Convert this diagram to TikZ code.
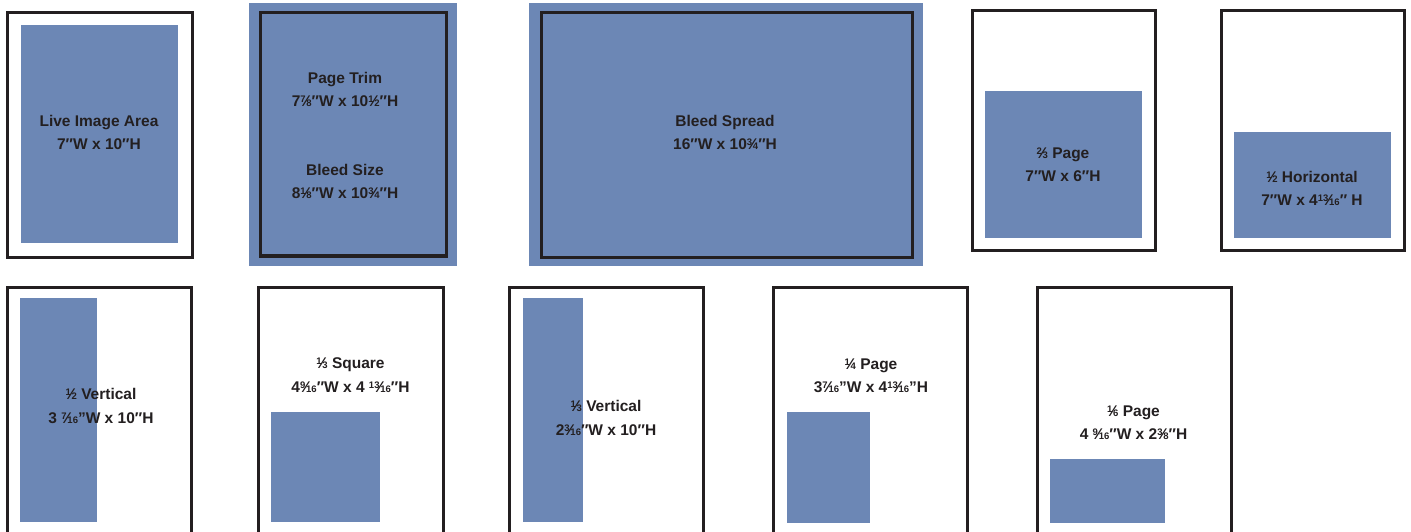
\documentclass[tikz,border=0pt]{standalone}
\usepackage{fontspec}
\setmainfont{Liberation Sans}
\definecolor{pblue}{HTML}{6C87B5}
\definecolor{ink}{HTML}{231F20}
\newcommand\fr[2]{\raisebox{4.0pt}{\fontsize{9.5}{10}\selectfont#1}\kern-0.9pt{\char"2044}\kern-0.9pt{\fontsize{9.5}{10}\selectfont#2}}
\newcommand\dq{\char"2033}
\tikzset{
  frame/.style={draw=ink, line width=3pt},
  ad/.style={fill=pblue},
  lbl/.style={text=ink, font=\bfseries\fontsize{15.5}{23.5}\selectfont, align=center, inner sep=0pt}
}
\begin{document}
\begin{tikzpicture}[x=1pt,y=1pt]
\useasboundingbox (0,0) rectangle (1411,531);
\clip (0,0) rectangle (1411,531);
\fill[white] (0,0) rectangle (1411,531);
% top row
\draw[frame] (7,518) rectangle (192,274);
\fill[ad] (21,506) rectangle (178,288);
\fill[ad] (249,528) rectangle (457,265);
\draw[frame] (260,518) rectangle (446,275);
\fill[ad] (529,528) rectangle (923,265);
\draw[frame] (541,518) rectangle (912,274);
\draw[frame] (972,520) rectangle (1155,280);
\fill[ad] (985,440) rectangle (1142,293);
\draw[frame] (1221,520) rectangle (1404,280);
\fill[ad] (1234,399) rectangle (1391,293);
% bottom row
\draw[frame] (7,244) rectangle (191,-10);
\fill[ad] (20,233) rectangle (97,9);
\draw[frame] (258,244) rectangle (443,-10);
\fill[ad] (271,119) rectangle (380,9);
\draw[frame] (509,244) rectangle (703,-10);
\fill[ad] (523,233) rectangle (583,9);
\draw[frame] (773,244) rectangle (967,-10);
\fill[ad] (787,119) rectangle (870,8);
\draw[frame] (1037,244) rectangle (1231,-10);
\fill[ad] (1050,72) rectangle (1165,8);
% labels
\node[lbl] (t1) at (99,398.5) {Live Image Area\\7\dq W x 10\dq H};
\node[lbl] (t2a) at (345,441.5) {Page Trim\\7\fr78\dq W x 10\fr12\dq H};
\node[lbl] (t2b) at (345,349.5) {Bleed Size\\8\fr18\dq W x 10\fr34\dq H};
\node[lbl] (t3) at (725,398.5) {Bleed Spread\\16\dq W x 10\fr34\dq H};
\node[lbl] (t4) at (1063,366.5) {\fr23 Page\\7\dq W x 6\dq H};
\node[lbl] (t5) at (1312,342.5) {\fr12 Horizontal\\7\dq W x 4\fr{13}{16}\dq{} H};
\node[lbl] (t6) at (101,125) {\fr12 Vertical\\3 \fr7{16}"W x 10\dq H};
\node[lbl] (t7) at (350.5,156) {\fr13 Square\\4\fr9{16}\dq W x 4 \fr{13}{16}\dq H};
\node[lbl] (t8) at (606,113) {\fr13 Vertical\\2\fr3{16}\dq W x 10\dq H};
\node[lbl] (t9) at (871,155) {\fr14 Page\\3\fr7{16}"W x 4\fr{13}{16}"H};
\node[lbl] (t10) at (1133.5,108.5) {\fr16 Page\\4 \fr9{16}\dq W x 2\fr38\dq H};
\end{tikzpicture}
\end{document}
